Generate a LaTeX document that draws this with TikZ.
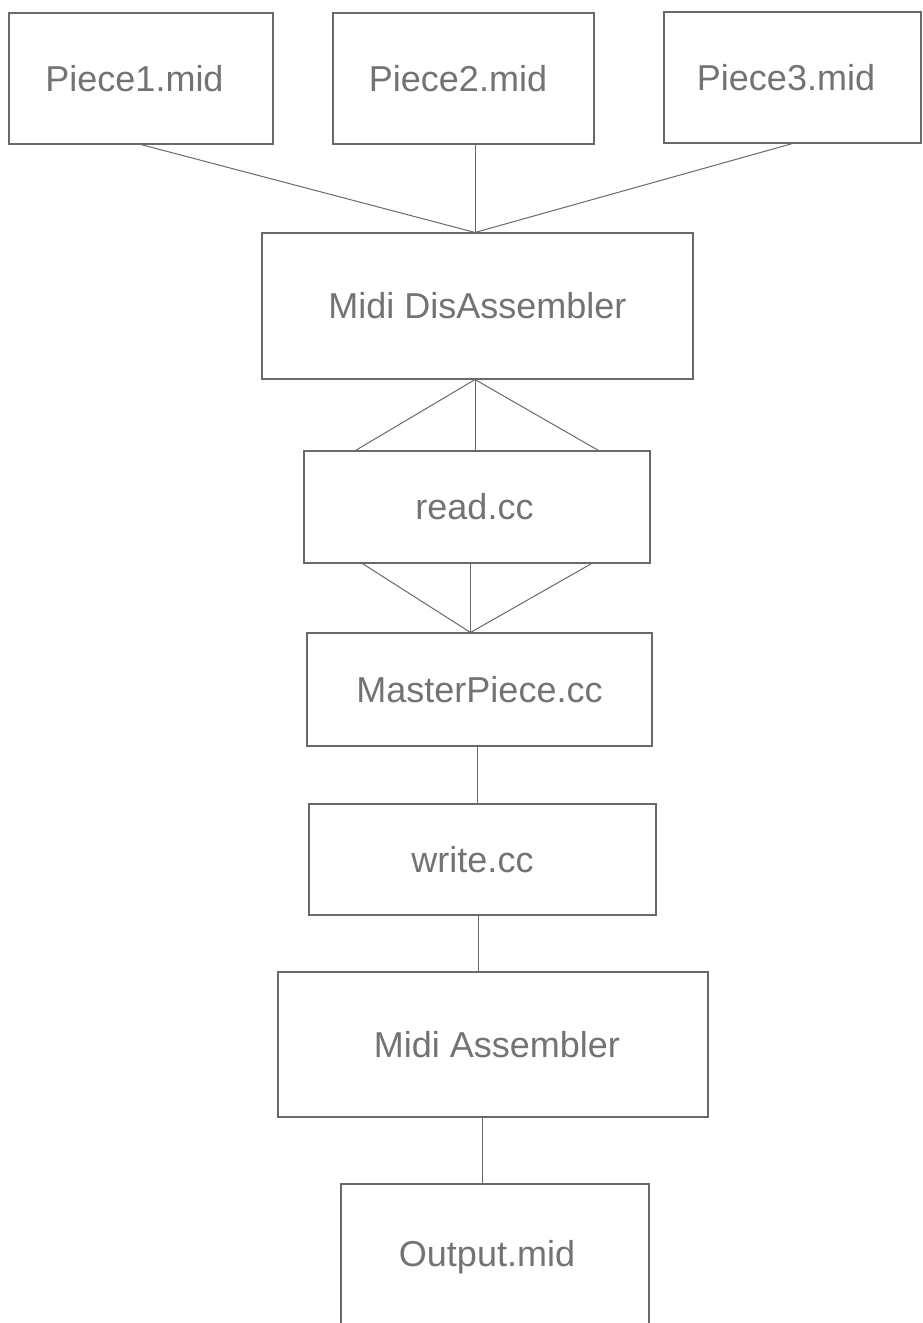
\documentclass[tikz,border=0pt]{standalone}
\usepackage{fontspec}
\setmainfont{Liberation Sans}
\usetikzlibrary{calc}
\definecolor{linegray}{RGB}{105,105,105}
\definecolor{textgray}{RGB}{115,115,115}
\tikzset{
  box/.style={draw=linegray, line width=1.1pt, rectangle, inner sep=0pt,
    text=textgray, font=\fontsize{36}{43}\selectfont},
  conn/.style={draw=linegray, line width=1pt}
}
\begin{document}
\begin{tikzpicture}[x=1pt,y=-1pt]
\useasboundingbox[fill=white] (0,0) rectangle (923,1323);
% boxes
\node[box, minimum width=264pt, minimum height=131pt] (p1) at (141,78.5) {Piece1.mid\hspace*{13pt}};
\node[box, minimum width=261pt, minimum height=131pt] (p2) at (463.5,78.5) {Piece2.mid\hspace*{11pt}};
\node[box, minimum width=257pt, minimum height=131pt] (p3) at (792.5,77.5) {Piece3.mid\hspace*{13pt}};
\node[box, minimum width=431pt, minimum height=146pt] (dis) at (477.5,306) {Midi DisAssembler};
\node[box, minimum width=346pt, minimum height=112pt] (read) at (477,507) {read.cc\hspace*{5pt}};
\node[box, minimum width=345pt, minimum height=113pt] (master) at (479.5,689.5) {MasterPiece.cc};
\node[box, minimum width=347pt, minimum height=111pt] (write) at (482.5,859.5) {write.cc\hspace*{20pt}};
\node[box, minimum width=430pt, minimum height=145pt] (asm) at (493,1044.5) {\hspace*{8pt}Midi Assembler};
\node[box, minimum width=308pt, minimum height=146pt] (out) at (495,1257) {Output.mid\hspace*{16pt}};
% apex points
\coordinate (top) at ($(dis.north)+(-2.5,0)$);
\coordinate (dsouth) at ($(dis.south)+(-2.5,0)$);
\coordinate (mnorth) at ($(master.north)+(-9,0)$);
% connectors
\draw[conn] (p1.south) -- (top);
\draw[conn] (p2.south -| top) -- (top);
\draw[conn] (p3.south) -- (top);
\draw[conn] (dsouth) -- ($(read.north west)!0.15!(read.north east)$);
\draw[conn] (dsouth) -- (read.north -| dsouth);
\draw[conn] (dsouth) -- ($(read.north west)!0.85!(read.north east)$);
\draw[conn] ($(read.south west)!0.17!(read.south east)$) -- (mnorth);
\draw[conn] (read.south -| mnorth) -- (mnorth);
\draw[conn] ($(read.south west)!0.83!(read.south east)$) -- (mnorth);
\draw[conn] ([xshift=-2pt]master.south) -- ([xshift=-2pt]master.south |- write.north);
\draw[conn] ([xshift=-4pt]write.south) -- ([xshift=-4pt]write.south |- asm.north);
\draw[conn] ([xshift=-11pt]asm.south) -- ([xshift=-11pt]asm.south |- out.north);
\end{tikzpicture}
\end{document}
